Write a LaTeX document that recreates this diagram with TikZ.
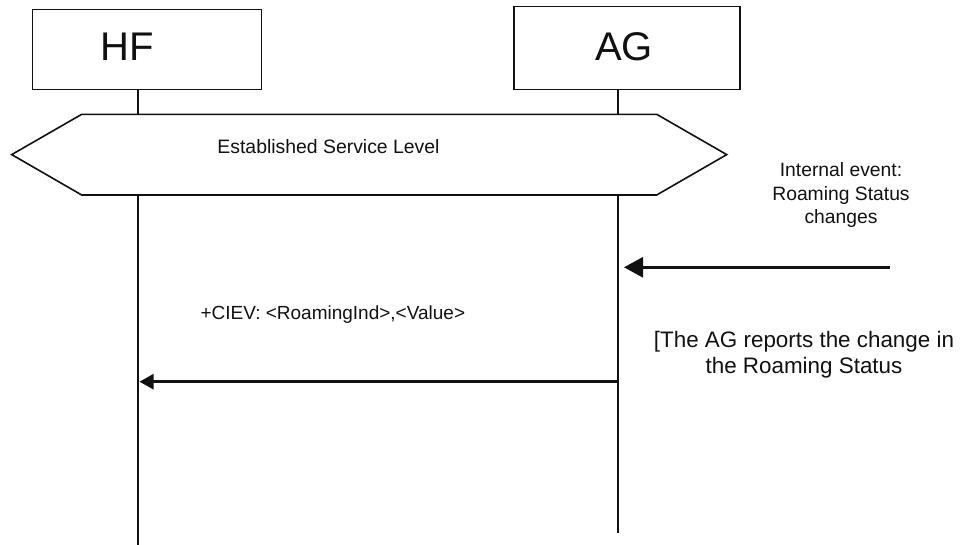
\documentclass[tikz,border=0pt]{standalone}
\usepackage{fontspec}
\setmainfont{Liberation Sans}
\usepackage{xcolor}
\definecolor{inkblack}{HTML}{111111}
\usepackage{tikz}
\usetikzlibrary{arrows.meta, positioning, calc}

\begin{document}
\begin{tikzpicture}[x=1pt, y=-1pt,
    entity/.style={draw=inkblack, line width=1.3pt, minimum width=229pt, minimum height=80pt, inner sep=0pt},
    bigname/.style={font=\fontsize{40}{44}\selectfont, text=inkblack},
    msgtext/.style={font=\fontsize{19}{23.5}\selectfont, text=inkblack, align=center},
    lifeline/.style={line width=2.6pt, color=inkblack},
    msg/.style={line width=2.8pt, color=inkblack}]
  \useasboundingbox (0,0) rectangle (961,544);

  % --- Entities ---
  \node[entity] (hf) at (147, 49.2) {};
  \node[bigname] (hf-name) at (127, 47) {HF};
  \node[entity, minimum width=226pt, minimum height=83pt] (ag) at (627, 47.8) {};
  \node[bigname] (ag-name) at (624, 47) {AG};

  % Lifelines
  \coordinate (hf-end) at (138, 546);
  \coordinate (ag-end) at (618, 533);
  \draw[lifeline] (hf.south -| hf-end) -- (hf-end);
  \draw[lifeline] (ag.south -| ag-end) -- (ag-end);

  % --- Established Service Level ---
  \draw[line width=1.6pt, color=inkblack, fill=white]
    (11.7, 154.6) -- (81.7, 114.3) -- (656.7, 114.3) -- (726.7, 154.6)
    -- (656.7, 195) -- (81.7, 195) -- cycle;
  \node[msgtext, font=\fontsize{19.4}{23}\selectfont] (esl) at (328.5, 147) {Established Service Level};

  % --- Internal event ---
  \node[msgtext, font=\fontsize{19.3}{23.5}\selectfont] (event) at (841, 195.5) {Internal event:\\Roaming Status\\changes};
  \coordinate (ev-start) at (890, 267.3);
  \coordinate (ag-in) at (624, 267.3);
  \draw[msg, -{Triangle[length=19pt, width=20pt]}] (ev-start) -- (ag-in);

  % --- +CIEV to HF ---
  \node[msgtext, anchor=west] (ciev) at (197, 315) {+CIEV: <RoamingInd>,<Value>};
  \coordinate (ag-out) at (618, 381.7);
  \coordinate (hf-in) at (139.5, 381.7);
  \draw[msg, line width=2.5pt, -{Triangle[length=14pt, width=15pt]}] (ag-out) -- (hf-in);
  \node[msgtext, font=\fontsize{22.4}{26}\selectfont] (report) at (804, 355) {[The AG reports the change in\\the Roaming Status};
\end{tikzpicture}
\end{document}
